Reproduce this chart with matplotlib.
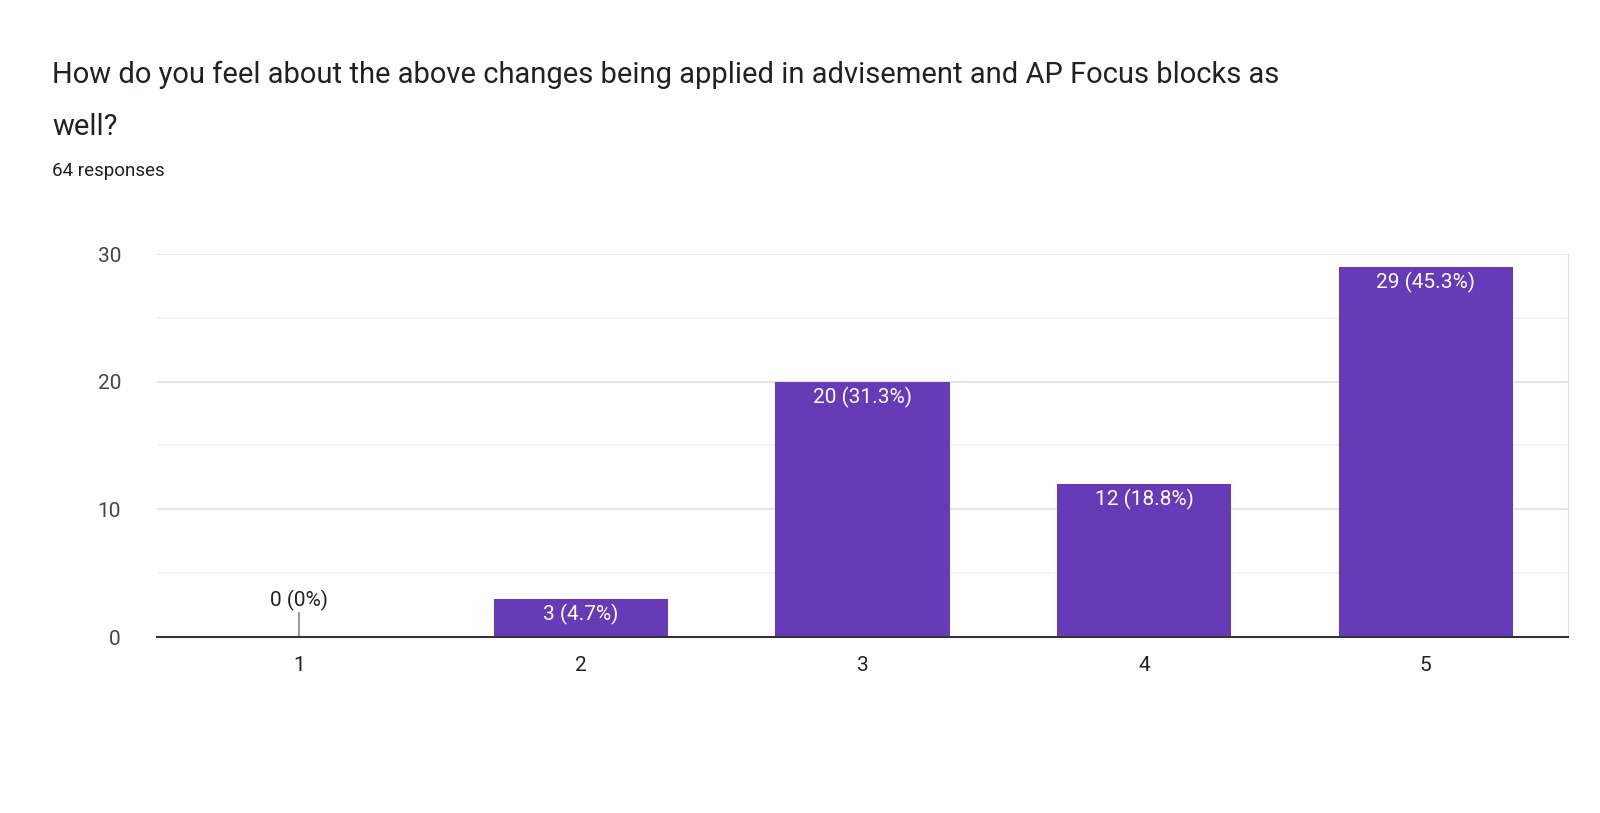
import matplotlib
matplotlib.use("Agg")
import matplotlib.pyplot as plt
from matplotlib.ticker import MultipleLocator

plt.rcParams["font.family"] = ["Roboto", "DejaVu Sans"]

categories = [1, 2, 3, 4, 5]
counts = [0, 3, 20, 12, 29]
labels = ["0 (0%)", "3 (4.7%)", "20 (31.3%)", "12 (18.8%)", "29 (45.3%)"]

BAR = "#673ab7"

fig = plt.figure(figsize=(16, 8.13), dpi=100)
fig.text(52 / 1600, 1 - 75 / 813, "How do you feel about the above changes being applied in advisement and AP Focus blocks as",
         fontsize=21, color="#202124", va="center")
fig.text(52 / 1600, 1 - 127 / 813, "well?", fontsize=21, color="#202124", va="center")
fig.text(52 / 1600, 1 - 171 / 813, "64 responses", fontsize=13.5, color="#202124", va="center")

ax = fig.add_axes([157 / 1600, 176 / 813, 1411 / 1600, 383 / 813])
ax.bar(categories, counts, width=0.618, color=BAR, zorder=3)
for x, c, lab in zip(categories, counts, labels):
    if c == 0:
        ax.plot([x, x], [0, 1.9], color="#888888", lw=1.2, zorder=3)
        ax.text(x, 2.0, lab, ha="center", va="bottom", fontsize=15, color="#202124", zorder=4)
    else:
        ax.text(x, c - 0.4, lab, ha="center", va="top", fontsize=15, color="white", zorder=4)

ax.set_xlim(0.495, 5.505)
ax.set_ylim(0, 30)
ax.yaxis.set_major_locator(MultipleLocator(10))
ax.yaxis.set_minor_locator(MultipleLocator(5))
ax.set_xticks(categories)
ax.grid(axis="y", which="major", color="#e0e0e0", lw=1.2, zorder=0)
ax.grid(axis="y", which="minor", color="#f2f2f2", lw=1.2, zorder=0)
for s in ["left", "top"]:
    ax.spines[s].set_visible(False)
ax.spines["right"].set_color("#e0e0e0")
ax.spines["bottom"].set_color("#333333")
ax.spines["bottom"].set_linewidth(1.5)
ax.spines["bottom"].set_zorder(5)
ax.tick_params(axis="both", which="both", length=0, labelsize=15, labelcolor="#444444")
ax.tick_params(axis="x", pad=14, labelcolor="#202124")
ax.tick_params(axis="y", pad=26)

fig.savefig("out.png", dpi=100)
